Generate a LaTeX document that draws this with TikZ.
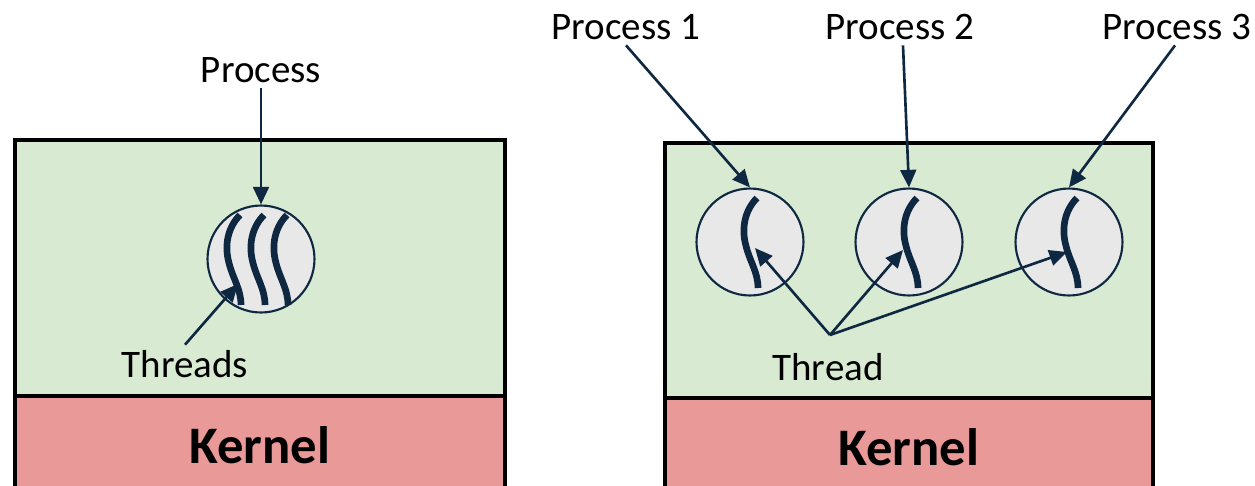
\documentclass[tikz,border=0pt]{standalone}
\usepackage{fontspec}
\setmainfont{Carlito}
\usetikzlibrary{arrows.meta}
\definecolor{navy}{HTML}{0E2841}
\definecolor{userbg}{HTML}{D9EAD3}
\definecolor{kernbg}{HTML}{EA9999}
\definecolor{cellbg}{HTML}{E8E8E8}

\begin{document}
\begin{tikzpicture}[
  x=0.02cm, y=-0.02cm,
  userbox/.style={draw=black, fill=userbg, line width=2.3pt},
  kernbox/.style={draw=black, fill=kernbg, line width=2.3pt},
  proc/.style={circle, draw=navy, fill=cellbg, line width=1.2pt,
               minimum size=2.14cm, inner sep=0pt},
  ptr/.style={draw=navy, line width=1.5pt,
              -{Triangle[length=10pt,width=9pt]}},
  thr/.style={draw=navy, line width=3.8pt, line cap=butt},
  lbl/.style={font=\fontsize{22.2}{26}\selectfont, text=black, inner sep=0.3em},
  klbl/.style={font=\fontsize{30}{35}\selectfont\bfseries, text=black},
  strand/.pic={\draw[thr] (0,-44) .. controls (-12,-32) and (-16,-14) .. (-11,4)
                          .. controls (-7,20) and (1,30) .. (1,46);}
]
\useasboundingbox (0,0) rectangle (1255,485);

% ---- single process, many threads ----
\draw[userbox] (15,140) rectangle (505,396);
\draw[kernbox] (15,396) rectangle (505,500);
\node[klbl] (k1) at (260,445) {Kernel};

\node[proc] (pm) at (261,259) {};
\pic at (240,259) {strand};
\pic at (264,259) {strand};
\pic at (287,259) {strand};

\node[lbl] (lp) at (261,70) {Process};
\draw[ptr] (lp.south) -- (pm.north);

\node[lbl] (lt) at (185,364) {Threads};
\coordinate (tm) at (238,284);
\draw[ptr] (lt.north) -- (tm);

% ---- several processes, one thread each ----
\draw[userbox] (665,143) rectangle (1153,398);
\draw[kernbox] (665,398) rectangle (1153,500);
\node[klbl] (k2) at (909,447) {Kernel};

\node[proc] (p1) at (750,242) {};
\node[proc] (p2) at (909,242) {};
\node[proc] (p3) at (1069,242) {};
\pic at (757,242) {strand};
\pic at (917,242) {strand};
\pic at (1077,242) {strand};

\node[lbl] (l1) at (626,27) {Process 1};
\node[lbl] (l2) at (900,27) {Process 2};
\node[lbl] (l3) at (1177,27) {Process 3};
\draw[ptr] (l1.south) -- (p1.north);
\draw[ptr] ([xshift=0.06cm]l2.south) -- (p2.north);
\draw[ptr] ([xshift=-0.04cm]l3.south) -- (p3.north);

\node[lbl] (lth) at (828,367) {Thread};
\coordinate (hub) at (830,335);
\coordinate (t1) at (755,248);
\coordinate (t2) at (903,250);
\coordinate (t3) at (1067,252);
\draw[ptr] (hub) -- (t1);
\draw[ptr] (hub) -- (t2);
\draw[ptr] (hub) -- (t3);
\end{tikzpicture}
\end{document}
